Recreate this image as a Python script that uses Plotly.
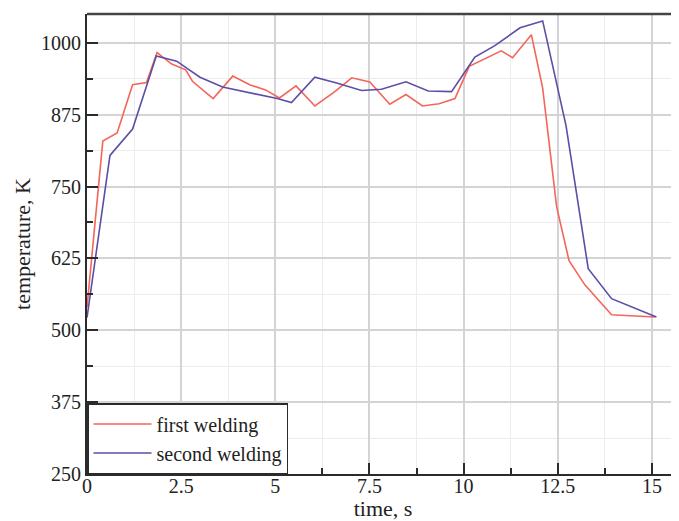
import plotly.graph_objects as go

# Data
time_first = [0, 0.42, 0.80, 1.21, 1.58, 1.86, 2.25, 2.62, 2.80, 3.35, 3.87, 4.32, 4.74, 5.11,
              5.55, 6.05, 6.58, 7.03, 7.51, 8.04, 8.47, 8.91, 9.35, 9.77, 10.15, 11.0, 11.3,
              11.8, 12.1, 12.47, 12.80, 13.22, 13.93, 15.08]
temp_first = [540, 829, 843, 927, 931, 983, 963, 953, 933, 903, 942, 927, 918, 904,
              925, 890, 915, 939, 932, 893, 910, 890, 894, 903, 959, 986, 974,
              1014, 921, 715, 621, 579, 527, 523]

time_second = [0, 0.61, 1.21, 1.84, 2.38, 3.0, 3.6, 4.38, 5.05, 5.43, 6.05, 6.63, 7.29, 7.82,
               8.47, 9.06, 9.68, 10.3, 10.83, 11.5, 12.1, 12.72, 13.31, 13.93, 15.12]
temp_second = [522, 804, 850, 977, 968, 940, 923, 912, 903, 896, 940, 930, 917, 919,
               932, 916, 915, 975, 995, 1026, 1038, 856, 607, 555, 523]

series_names = ["first welding", "second welding"]
x_ticks = [0, 2.5, 5, 7.5, 10, 12.5, 15]
x_tick_labels = ["0", "2.5", "5", "7.5", "10", "12.5", "15"]
y_ticks = [250, 375, 500, 625, 750, 875, 1000]
y_tick_labels = ["250", "375", "500", "625", "750", "875", "1000"]

RED = "#F4655A"
BLUE = "#5A4FA6"
AXC = "#2b2b2b"
FONT = "Liberation Serif"

fig = go.Figure()
fig.add_trace(go.Scatter(x=time_first, y=temp_first, mode="lines", name=series_names[0],
                         line=dict(color=RED, width=1.6)))
fig.add_trace(go.Scatter(x=time_second, y=temp_second, mode="lines", name=series_names[1],
                         line=dict(color=BLUE, width=1.6)))

# page body has an 8px margin: figure is offset by 8px right and down
fig.update_layout(
    width=671, height=513,
    margin=dict(l=79, r=0, t=6, b=47),
    paper_bgcolor="white", plot_bgcolor="white",
    font=dict(family=FONT, size=20, color="#222"),
    legend=dict(x=0, y=0, xanchor="left", yanchor="bottom",
                bgcolor="white", bordercolor=AXC, borderwidth=1.5,
                font=dict(family=FONT, size=20, color="#222"),
                tracegroupgap=0, itemwidth=58),
    shapes=[dict(type="line", xref="paper", yref="paper", x0=0, x1=1, y0=1, y1=1,
                 line=dict(color="#444", width=2.5))],
)

fig.update_xaxes(
    range=[0, 15.72], tickvals=x_ticks, ticktext=x_tick_labels, automargin=False,
    tickfont=dict(family=FONT, size=20, color="#222"),
    showline=True, linecolor=AXC, linewidth=2,
    ticks="inside", ticklen=11, tickwidth=2, tickcolor=AXC,
    showgrid=True, gridcolor="#d4d4d8", gridwidth=1.5,
    minor=dict(dtick=1.25, tick0=0, ticks="inside", ticklen=6, tickwidth=2, tickcolor=AXC,
               showgrid=True, gridcolor="#ececef", gridwidth=1),
    zeroline=False, ticklabelstandoff=-7,
    title=dict(text="time, s", font=dict(family=FONT, size=22), standoff=5),
)
fig.update_yaxes(
    range=[250, 1050], tickvals=y_ticks, ticktext=y_tick_labels, automargin=False,
    tickfont=dict(family=FONT, size=20, color="#222"),
    showline=True, linecolor=AXC, linewidth=2,
    ticks="inside", ticklen=11, tickwidth=2, tickcolor=AXC,
    showgrid=True, gridcolor="#d4d4d8", gridwidth=1.5,
    minor=dict(dtick=62.5, tick0=250, ticks="inside", ticklen=6, tickwidth=2, tickcolor=AXC,
               showgrid=True, gridcolor="#ececef", gridwidth=1),
    zeroline=False, ticklabelstandoff=0,
    title=dict(text="temperature, K", font=dict(family=FONT, size=22), standoff=4),
)

fig.write_html("out.html")
